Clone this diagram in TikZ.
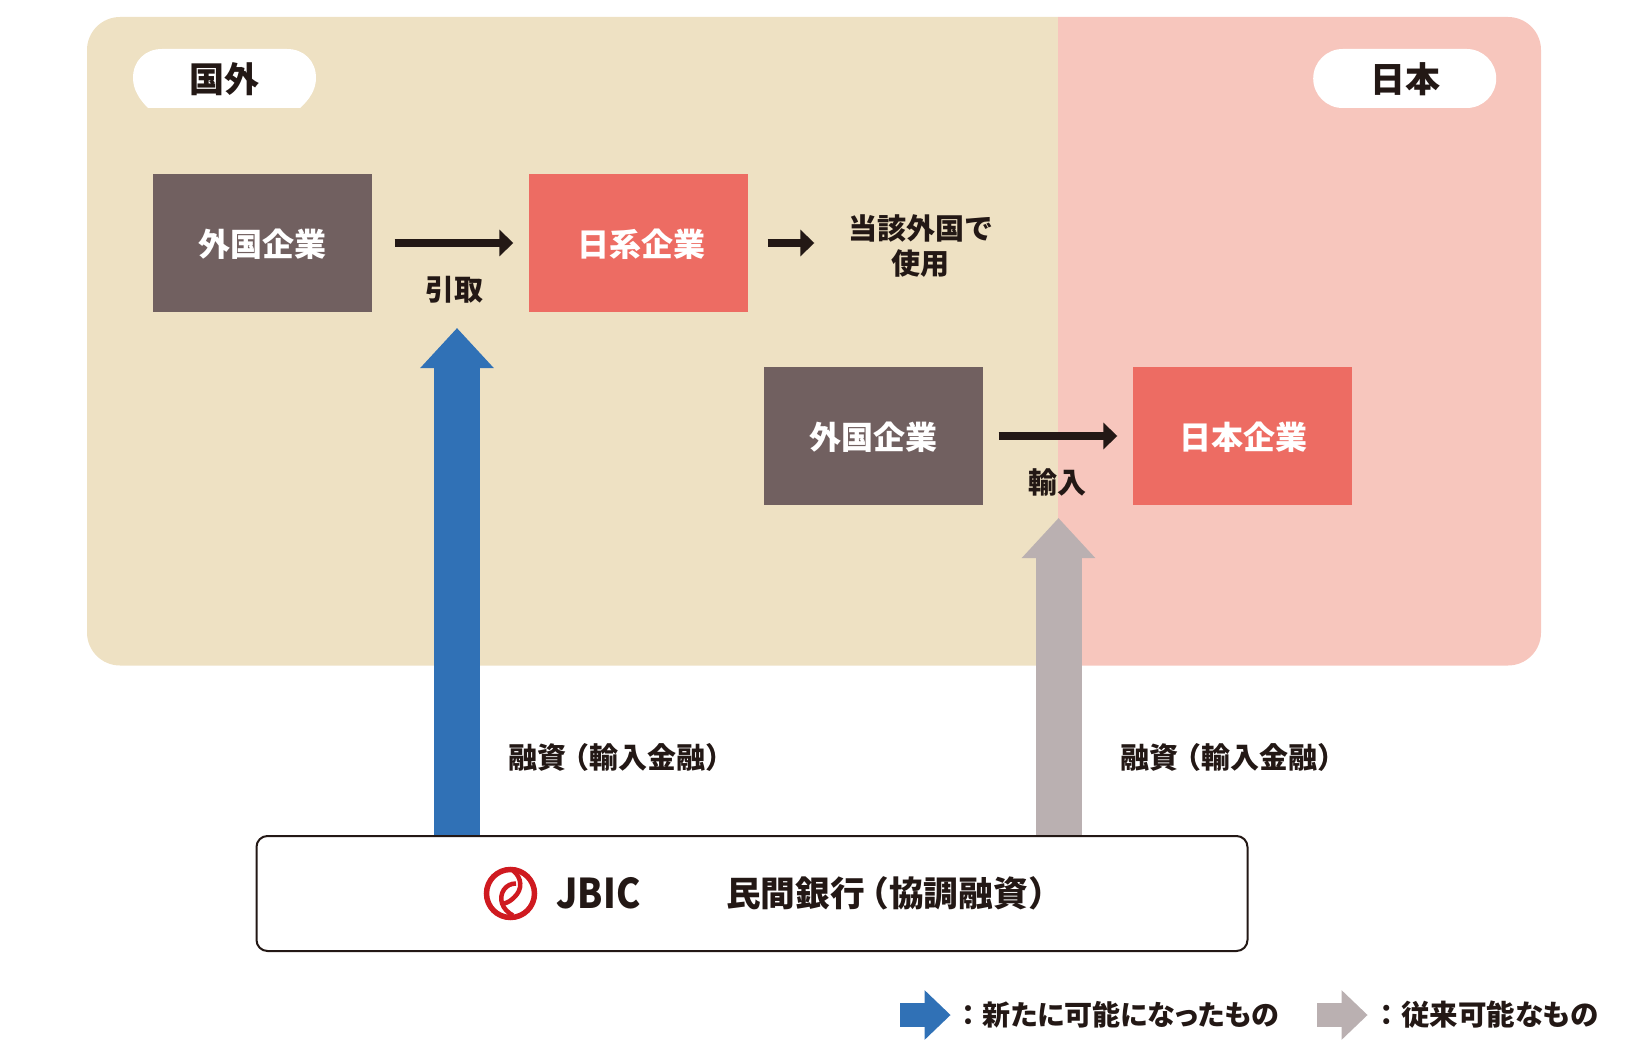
\documentclass[tikz,border=0pt]{standalone}
\usepackage{fontspec}
\setmainfont{Noto Sans CJK JP}
\newfontfamily\jpp{Noto Sans CJK JP}[RawFeature=+palt]
\usetikzlibrary{arrows.meta,backgrounds}
\definecolor{paneltan}{HTML}{EEE1C3}
\definecolor{panelpink}{HTML}{F7C6BD}
\definecolor{boxbrown}{HTML}{716060}
\definecolor{boxred}{HTML}{ED6C63}
\definecolor{newblue}{HTML}{3071B6}
\definecolor{oldgray}{HTML}{BAB0B1}
\definecolor{inkdark}{HTML}{231815}
\definecolor{logored}{HTML}{CF1A20}
\tikzset{
  firm/.style={minimum width=219pt,minimum height=138pt,inner sep=0pt},
  firmtext/.style={inner sep=0pt,text=white,font=\fontsize{32}{36}\selectfont\bfseries},
  brownbox/.style={firm,fill=boxbrown},
  redbox/.style={firm,fill=boxred},
  plainlabel/.style={inner sep=0pt,text=inkdark,font=\fontsize{29}{35}\selectfont\bfseries,align=center},
  pilllabel/.style={inner sep=0pt,text=inkdark,font=\fontsize{35}{38}\selectfont\bfseries},
  flow/.style={draw=inkdark,line width=8pt,-{Triangle[length=14pt,width=26pt]}},
  bigblue/.style={draw=newblue,line width=46pt,-{Triangle[length=40pt,width=71pt]}},
  biggray/.style={draw=oldgray,line width=46pt,-{Triangle[length=40pt,width=71pt]}},
  keyblue/.style={draw=newblue,line width=24pt,-{Triangle[length=26pt,width=48pt]}},
  keygray/.style={draw=oldgray,line width=24pt,-{Triangle[length=26pt,width=48pt]}},
  logoline/.style={draw=logored,line width=4.5pt,line cap=butt},
}
\begin{document}
\begin{tikzpicture}[x=1pt,y=-1pt]
\useasboundingbox (0,0) rectangle (1628,1051);
% firms
\node[brownbox] (foreignA) at (262.3,243) {};
\node[firmtext] (foreignAtext) at (262.3,244) {外国企業};
\node[redbox] (nikkei) at (638,243) {};
\node[firmtext] (nikkeitext) at (641.5,244) {日系企業};
\node[brownbox] (foreignB) at (873.5,436) {};
\node[firmtext] (foreignBtext) at (873.5,437) {外国企業};
\node[redbox] (nihon) at (1242.5,436) {};
\node[firmtext] (nihontext) at (1243,437) {日本企業};
% labels
\node[plainlabel] (use) at (920.5,246) {当該外国で\\使用};
\node[plainlabel] (hikitori) at (454,289.5) {引取};
\node[plainlabel] (yunyu) at (1057.5,482.5) {輸入};
\node[plainlabel,anchor=west] (loanA) at (508.5,757.5) {融資{\kern-.2em}（輸入金融）};
\node[plainlabel,anchor=west] (loanB) at (1120.5,757.5) {融資{\kern-.2em}（輸入金融）};
% bank box
\node[draw=inkdark,line width=2pt,rounded corners=11pt,minimum width=991pt,minimum height=115pt,inner sep=0pt] (bank) at (752,893.5) {};
\node[inner sep=0pt,anchor=center,xscale=0.89,text=inkdark,font=\fontsize{41}{45}\selectfont\bfseries] (jbic) at (598.5,893.5) {JBIC};
\node[inner sep=0pt,anchor=west,text=inkdark,font=\fontsize{34.7}{40}\selectfont\bfseries] (banks) at (726,893.5) {民間銀行\kern-.3em（協調融資）};
% logo
\node[draw=logored,line width=5.5pt,circle,minimum size=48pt,inner sep=0pt] (logo) at (510.5,893.5) {};
\draw[logoline] (513,870.5) .. controls (522,877.5) and (523,889.5) .. (514,897.5) .. controls (511,900.5) and (508,902.5) .. (504,903.5);
\draw[logoline] (513,915.5) .. controls (502,909.5) and (498,898.5) .. (504,889.5) .. controls (507,885.5) and (511,883.5) .. (516,883.5);
% pills
\node[fill=white,rounded corners=29.5pt,minimum width=183pt,minimum height=59pt,inner sep=0pt] (japanpill) at (1404.7,78.5) {};
\node[pilllabel] (japan) at (1405,79.5) {日本};
\node[pilllabel] (abroad) at (224,79.5) {国外};
% legend text
\node[anchor=west,inner sep=0pt,text=inkdark,font=\fontsize{28}{34}\selectfont\bfseries] (keyA) at (954.5,1015) {：{\jpp 新たに可能になったもの}};
\node[anchor=west,inner sep=0pt,text=inkdark,font=\fontsize{28.5}{34}\selectfont\bfseries] (keyB) at (1372.5,1015) {：{\jpp 従来可能なもの}};
% arrow end points
\coordinate (blueTip) at (457,328);
\coordinate (grayTip) at (1058.5,518);
\coordinate (keyAstart) at (900,1015);
\coordinate (keyAend) at (950.6,1015);
\coordinate (keyBstart) at (1317,1015);
\coordinate (keyBend) at (1367.6,1015);
% thin arrows
\draw[flow,shorten <=22.5pt,shorten >=15pt] (foreignA.east) -- (nikkei.west);
\draw[flow,shorten <=20pt,shorten >=33.5pt] (nikkei.east) -- (nikkei.east -| use.west);
\draw[flow,shorten <=15.5pt,shorten >=15.5pt] (foreignB.east) -- (nihon.west);
\begin{pgfonlayer}{background}
  \fill[paneltan] (1058,17) [rounded corners=33pt] -- (87,17) -- (87,665.5) [sharp corners] -- (1058,665.5) -- cycle;
  \fill[panelpink] (1058,17) [rounded corners=33pt] -- (1541,17) -- (1541,665.5) [sharp corners] -- (1058,665.5) -- cycle;
  \fill[white] (162,49) -- (287,49) .. controls (304,49) and (316,61) .. (316,78) .. controls (316,90) and (309,100) .. (300,108) -- (148,108) .. controls (140,100) and (133,90) .. (133,78) .. controls (133,61) and (145,49) .. (162,49) -- cycle;
  \draw[bigblue] (blueTip |- bank.north) -- (blueTip);
  \draw[biggray] (grayTip |- bank.north) -- (grayTip);
  \draw[keyblue] (keyAstart) -- (keyAend);
  \draw[keygray] (keyBstart) -- (keyBend);
\end{pgfonlayer}
\end{tikzpicture}
\end{document}
